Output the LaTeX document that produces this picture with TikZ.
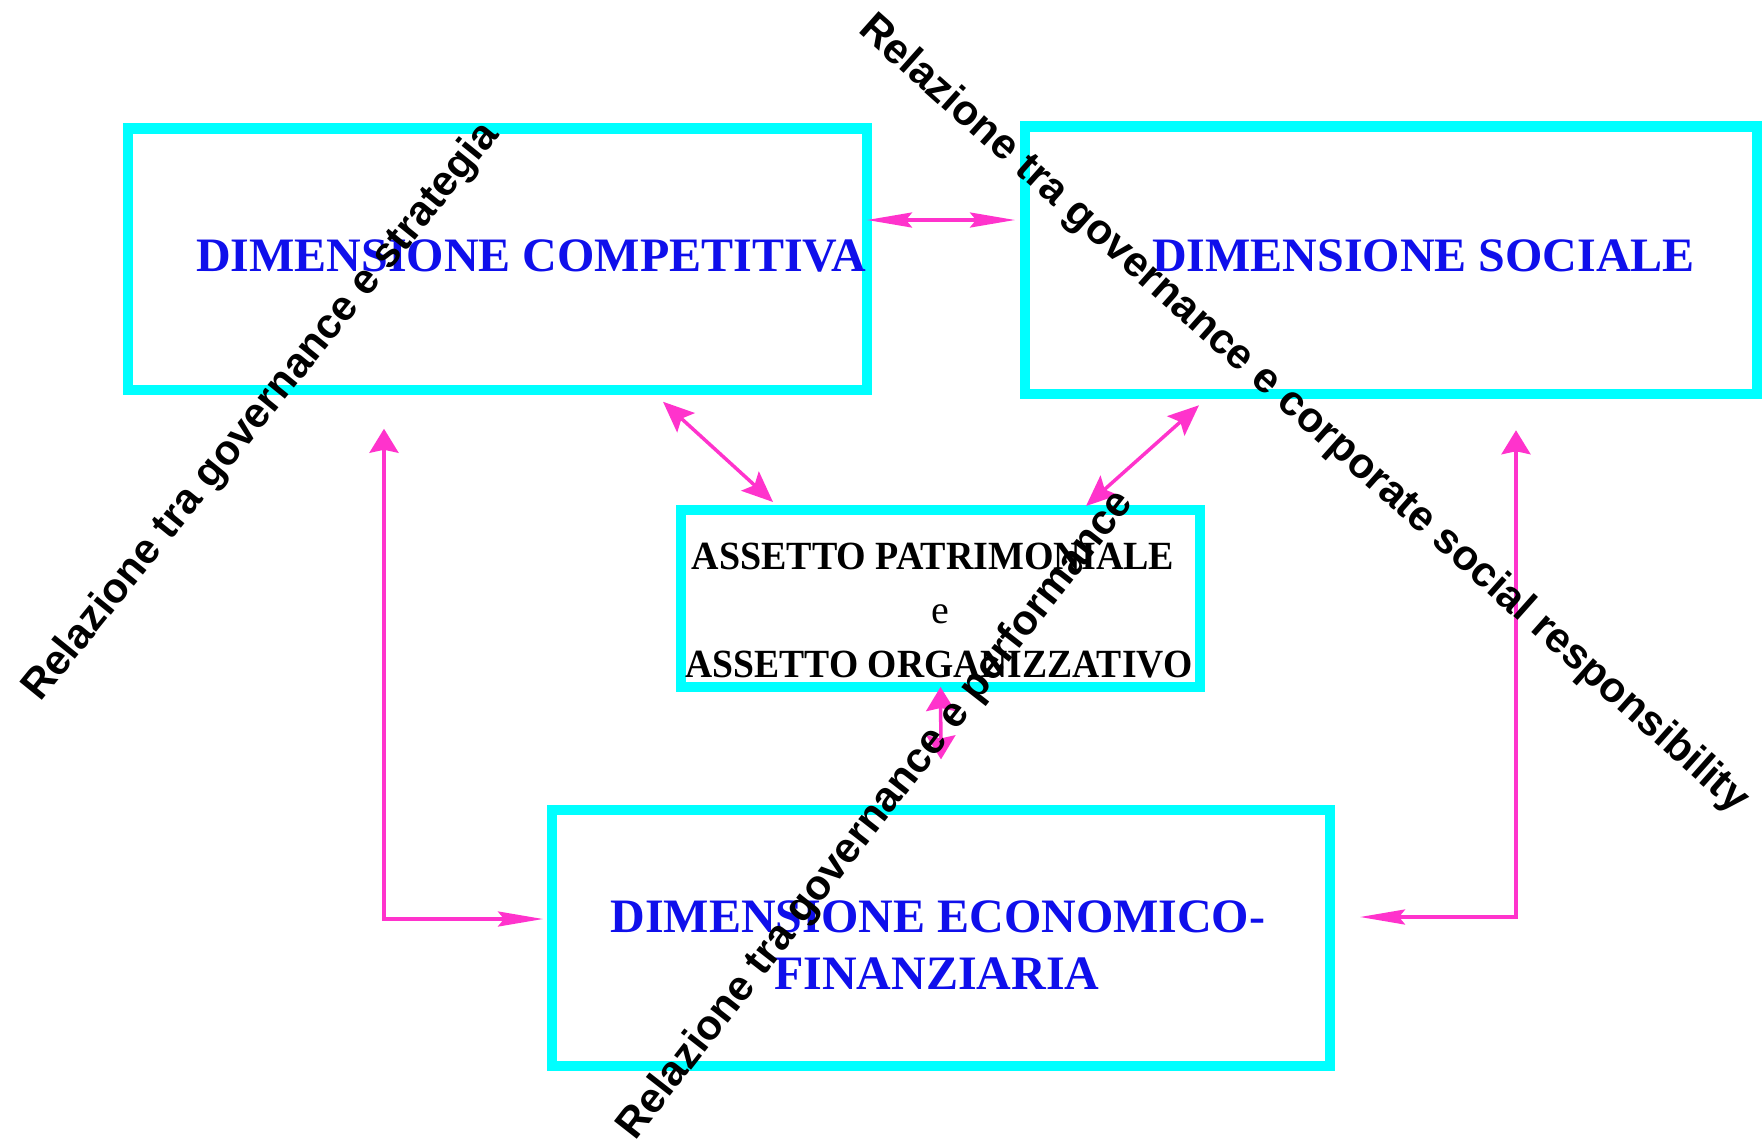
\documentclass[tikz,border=0pt]{standalone}
\usepackage{fontspec}
\setmainfont{Liberation Serif}
\newfontfamily\labfont{Liberation Sans}
\usetikzlibrary{arrows.meta}
\definecolor{boxcyan}{RGB}{0,255,255}
\definecolor{dimblue}{RGB}{15,15,235}
\definecolor{arrpink}{RGB}{255,51,204}
\tikzset{
  dbox/.style={draw=boxcyan, line width=5.25pt, rectangle, inner sep=0pt, outer sep=0pt},
  dimtext/.style={text=dimblue, font=\fontsize{24}{28}\selectfont\bfseries, inner sep=0pt, anchor=base},
  asstext/.style={text=black, font=\fontsize{20}{24}\selectfont\bfseries, inner sep=0pt, anchor=base},
  reltext/.style={text=black, font=\labfont\fontsize{21}{25}\selectfont\bfseries, inner sep=0pt, anchor=base},
  conn/.style={draw=arrpink, line width=1.75pt},
  hhead/.tip={Stealth[length=22.5pt, width=7.5pt, inset=3pt]},
  vhead/.tip={Stealth[length=12pt, width=14.5pt, inset=1.5pt]},
  dhead/.tip={Stealth[length=15.5pt, width=13pt, inset=3pt]}
}
\begin{document}
\begin{tikzpicture}[x=0.5pt, y=-0.5pt]
\useasboundingbox (0,0) rectangle (1763,1142);
% boxes
\node[dbox, minimum width=369.5pt, minimum height=130.75pt] (comp) at (497.5,259) {};
\node[dbox, minimum width=366pt, minimum height=133.75pt] (soc) at (1391,260) {};
\node[dbox, minimum width=259.5pt, minimum height=88.5pt] (ass) at (940.5,598.5) {};
\node[dbox, minimum width=389pt, minimum height=128pt] (eco) at (941,938) {};
% connectors
\draw[conn, {hhead}-{hhead}] ([yshift=19.5pt]comp.east) -- ([xshift=-5pt,yshift=20pt]soc.west);
\draw[conn, {dhead}-{dhead}] ([xshift=82.75pt,yshift=-6pt]comp.south) -- ([xshift=-83.75pt,yshift=4pt]ass.north);
\draw[conn, {dhead}-{dhead}] ([xshift=-96pt,yshift=-5.75pt]soc.south) -- ([xshift=72.75pt,yshift=2pt]ass.north);
\draw[conn, {vhead}-{vhead}] (ass.south) -- ([yshift=25.3pt]eco.north);
\draw[conn, {hhead}-{vhead}] ([xshift=-4.5pt,yshift=9.5pt]eco.west) -| ([xshift=-56.75pt,yshift=-19.5pt]comp.south);
\draw[conn, {hhead}-{vhead}] ([xshift=15pt,yshift=10.5pt]eco.east) -| ([xshift=62.5pt,yshift=-18.25pt]soc.south);
% box texts
\node[dimtext] (tcomp) at (531,271) {DIMENSIONE COMPETITIVA};
\node[dimtext] (tsoc) at (1423.5,271) {DIMENSIONE SOCIALE};
\node[dimtext] (teco1) at (938,932) {DIMENSIONE ECONOMICO-};
\node[dimtext] (teco2) at (937,989) {FINANZIARIA};
\node[asstext] (tass1) at (933,569) {\scalebox{0.95}[1]{ASSETTO PATRIMONIALE}};
\node[asstext, font=\fontsize{20}{24}\selectfont] (tasse) at (940,623) {e};
\node[asstext] (tass2) at (939,677) {\scalebox{0.94}[1]{ASSETTO ORGANIZZATIVO}};
% diagonal labels
\node[reltext, rotate=51] (rel1) at (270,419) {Relazione tra governance e strategia};
\node[reltext, rotate=-41.7, font=\labfont\fontsize{21.2}{25}\selectfont\bfseries] (rel2) at (1296,423) {Relazione tra governance e corporate social responsibility};
\node[reltext, rotate=52] (rel3) at (885,822) {Relazione tra governance e performance};
\end{tikzpicture}
\end{document}
